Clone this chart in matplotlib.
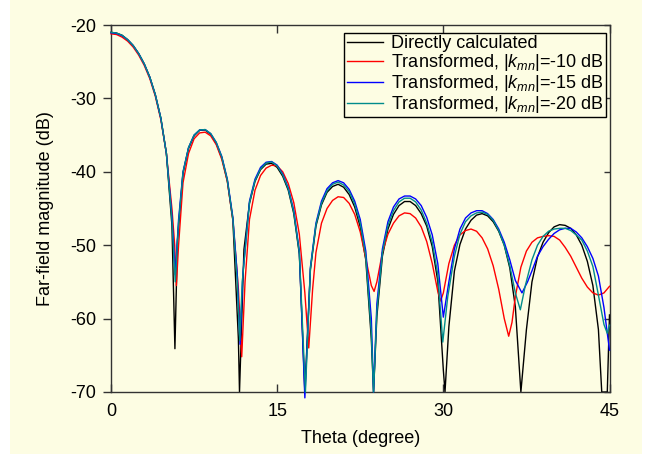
import matplotlib
matplotlib.use("Agg")
import matplotlib.pyplot as plt
from matplotlib.patches import Rectangle

plt.rcParams['font.family'] = ['Liberation Sans', 'DejaVu Sans']
plt.rcParams['mathtext.fontset'] = 'custom'
plt.rcParams['mathtext.rm'] = 'Liberation Sans'
plt.rcParams['mathtext.it'] = 'Liberation Sans:italic'
plt.rcParams['axes.unicode_minus'] = False

# ---------------- data: (theta in degrees, magnitude in dB) ----------------
pts_direct = [
    (0, -21.0), (0.5, -21.1), (1, -21.4), (1.5, -22.0), (2, -22.8), (2.5, -23.9), (3, -25.3),
    (3.5, -27.1), (4, -29.5), (4.5, -32.7), (5, -37.5), (5.5, -47.3), (5.77, -64.1), (6, -49.3),
    (6.5, -40.2), (7, -36.8), (7.5, -35.1), (8, -34.35), (8.5, -34.3), (9, -34.9), (9.5, -36.15),
    (10, -38.1), (10.5, -41.25), (11, -46.6), (11.5, -62.8), (11.6, -70.0), (12, -50.6),
    (12.5, -44.3), (13, -41.3), (13.5, -39.7), (14, -38.95), (14.5, -38.85), (15, -39.4),
    (15.5, -40.6), (16, -42.5), (16.5, -45.7), (17, -51.2), (17.5, -70.0), (18, -53.35),
    (18.5, -47.4), (19, -44.5), (19.5, -42.8), (20, -42.0), (20.5, -41.7), (21, -42.1),
    (21.5, -43.1), (22, -44.8), (22.5, -47.5), (23, -52.0), (23.5, -62.8), (23.7, -70.0),
    (24, -59.7), (24.5, -51.5), (25, -47.8), (25.5, -45.8), (26, -44.6), (26.5, -44.05),
    (27, -44.05), (27.5, -44.6), (28, -45.7), (28.5, -47.4), (29, -50.2), (29.5, -54.9),
    (30, -67.0), (30.15, -70.0), (30.5, -61.1), (31, -53.5), (31.5, -49.9), (32, -47.8),
    (32.5, -46.6), (33, -45.9), (33.5, -45.7), (34, -46.0), (34.5, -46.8), (35, -48.1),
    (35.5, -50.0), (36, -53.1), (36.5, -58.4), (37, -70.0), (37.5, -61.5), (38, -55.0),
    (38.5, -51.6), (39, -49.6), (39.5, -48.3), (40, -47.5), (40.5, -47.2), (41, -47.3),
    (41.5, -47.7), (42, -48.6), (42.5, -50.0), (43, -52.2), (43.5, -55.5), (44, -61.5),
    (44.3, -70.0), (44.8, -70.0), (45, -59.5),
]

pts_k10 = [
    (0, -21.2), (0.5, -21.3), (1, -21.65), (1.5, -22.2), (2, -23.0), (2.5, -24.1), (3, -25.5),
    (3.5, -27.3), (4, -29.7), (4.5, -32.9), (5, -37.5), (5.5, -45.0), (5.75, -50.0),
    (5.9, -55.5), (6.1, -50.0), (6.5, -41.5), (7, -37.5), (7.5, -35.5), (8, -34.7), (8.5, -34.6),
    (9, -35.1), (9.5, -36.3), (10, -38.3), (10.5, -41.3), (11, -46.5), (11.5, -56.0),
    (11.8, -65.2), (12.1, -55.0), (12.5, -46.5), (13, -42.5), (13.5, -40.5), (14, -39.5),
    (14.5, -39.1), (15, -39.2), (15.5, -40.0), (16, -41.6), (16.5, -44.2), (17, -48.5),
    (17.5, -56.5), (17.85, -64.0), (18.2, -56.0), (18.5, -51.0), (19, -47.0), (19.5, -45.0),
    (20, -43.9), (20.5, -43.4), (21, -43.5), (21.5, -44.3), (22, -45.8), (22.5, -48.2),
    (23, -51.8), (23.5, -55.5), (23.75, -56.3), (24, -55.0), (24.5, -51.0), (25, -48.5),
    (25.5, -47.0), (26, -46.0), (26.5, -45.6), (27, -45.7), (27.5, -46.3), (28, -47.5),
    (28.5, -49.5), (29, -52.5), (29.5, -56.3), (29.75, -57.6), (30, -56.5), (30.5, -52.5),
    (31, -50.0), (31.5, -48.6), (32, -48.0), (32.5, -47.8), (33, -48.1), (33.5, -49.0),
    (34, -50.5), (34.5, -52.8), (35, -56.0), (35.5, -60.0), (35.9, -62.4), (36.2, -60.5),
    (36.5, -57.0), (37, -53.0), (37.5, -50.8), (38, -49.6), (38.5, -49.0), (39, -48.8),
    (39.5, -48.7), (40, -48.8), (40.5, -49.3), (41, -50.3), (41.5, -51.5), (42, -53.0),
    (42.5, -54.5), (43, -55.7), (43.5, -56.5), (44, -56.8), (44.5, -56.5), (45, -55.6),
]

pts_k15 = [
    (0, -21.05), (0.5, -21.15), (1, -21.45), (1.5, -22.0), (2, -22.8), (2.5, -23.9), (3, -25.3),
    (3.5, -27.1), (4, -29.5), (4.5, -32.7), (5, -37.5), (5.5, -46.0), (5.8, -54.0), (6.1, -46.5),
    (6.5, -40.0), (7, -36.7), (7.5, -35.0), (8, -34.3), (8.5, -34.25), (9, -34.8), (9.5, -36.0),
    (10, -37.9), (10.5, -41.0), (11, -46.2), (11.4, -54.0), (11.65, -63.5), (11.9, -54.0),
    (12.5, -44.0), (13, -41.0), (13.5, -39.4), (14, -38.7), (14.5, -38.6), (15, -39.1),
    (15.5, -40.3), (16, -42.2), (16.5, -45.3), (17, -50.8), (17.5, -70.8), (18, -53.0),
    (18.5, -47.0), (19, -44.0), (19.5, -42.3), (20, -41.5), (20.5, -41.2), (21, -41.5),
    (21.5, -42.4), (22, -44.0), (22.5, -46.5), (23, -50.8), (23.5, -60.0), (23.7, -70.0),
    (24, -58.0), (24.5, -50.5), (25, -46.8), (25.5, -44.8), (26, -43.7), (26.5, -43.3),
    (27, -43.3), (27.5, -43.7), (28, -44.6), (28.5, -46.2), (29, -48.6), (29.5, -52.5),
    (30.0, -59.8), (30.5, -55.0), (31, -50.5), (31.5, -47.8), (32, -46.3), (32.5, -45.6),
    (33, -45.3), (33.5, -45.3), (34, -45.7), (34.5, -46.5), (35, -47.8), (35.5, -49.6),
    (36, -52.0), (36.5, -54.8), (37.1, -56.5), (37.6, -55.0), (38, -53.5), (38.5, -51.5),
    (39, -50.2), (39.5, -49.2), (40, -48.4), (40.5, -47.9), (41, -47.7), (41.5, -47.7),
    (42, -48.2), (42.5, -49.0), (43, -50.2), (43.5, -51.8), (44, -54.2), (44.5, -58.5),
    (45, -64.3),
]

pts_k20 = [
    (0, -21.0), (0.5, -21.1), (1, -21.4), (1.5, -22.0), (2, -22.8), (2.5, -23.9), (3, -25.3),
    (3.5, -27.1), (4, -29.5), (4.5, -32.7), (5, -37.5), (5.5, -46.5), (5.8, -55.0), (6.1, -47.0),
    (6.5, -40.1), (7, -36.7), (7.5, -35.0), (8, -34.3), (8.5, -34.25), (9, -34.8), (9.5, -36.0),
    (10, -38.0), (10.5, -41.1), (11, -46.4), (11.4, -55.0), (11.62, -63.0), (11.85, -55.0),
    (12.5, -44.2), (13, -41.2), (13.5, -39.6), (14, -38.8), (14.5, -38.65), (15, -39.2),
    (15.5, -40.4), (16, -42.3), (16.5, -45.5), (17, -51.0), (17.55, -70.0), (18, -53.2),
    (18.5, -47.2), (19, -44.3), (19.5, -42.6), (20, -41.7), (20.5, -41.4), (21, -41.8),
    (21.5, -42.7), (22, -44.4), (22.5, -47.0), (23, -51.5), (23.5, -62.0), (23.7, -70.0),
    (24, -59.0), (24.5, -51.0), (25, -47.3), (25.5, -45.3), (26, -44.1), (26.5, -43.6),
    (27, -43.6), (27.5, -44.1), (28, -45.2), (28.5, -47.0), (29, -49.6), (29.5, -54.0),
    (29.95, -63.2), (30.4, -57.0), (31, -51.5), (31.5, -48.5), (32, -46.8), (32.5, -46.0),
    (33, -45.6), (33.5, -45.5), (34, -45.8), (34.5, -46.6), (35, -48.0), (35.5, -50.0),
    (36, -52.8), (36.5, -56.5), (36.95, -58.8), (37.4, -55.5), (38, -52.0), (38.5, -50.0),
    (39, -48.8), (39.5, -48.1), (40, -47.8), (40.5, -47.7), (41, -47.7), (41.5, -48.0),
    (42, -48.6), (42.5, -49.3), (43, -50.8), (43.5, -52.9), (44, -56.8), (44.5, -60.8),
    (44.8, -62.0), (45, -60.9),
]

labels = ['Directly calculated',
          'Transformed, |$k_{mn}$|=-10 dB',
          'Transformed, |$k_{mn}$|=-15 dB',
          'Transformed, |$k_{mn}$|=-20 dB']
colors = ['#000000', '#ff0000', '#0000ff', '#008b8b']

x_ticks = [0, 15, 30, 45]
y_ticks = [-20, -30, -40, -50, -60, -70]

# ---------------- figure ----------------
W, H = 647, 454
bg = '#fdfde3'
fig = plt.figure(figsize=(W / 100, H / 100), dpi=100, facecolor='white')
fig.patches.append(Rectangle((10 / W, 0), 632 / W, 1.0, transform=fig.transFigure,
                             facecolor=bg, edgecolor='none', zorder=-10))

ax = fig.add_axes([111 / W, (H - 392) / H, (609.5 - 111) / W, (392 - 25) / H])
ax.set_facecolor(bg)

for i, (pts, c, lab) in enumerate(zip([pts_direct, pts_k10, pts_k15, pts_k20], colors, labels)):
    t = [p[0] for p in pts]
    d = [p[1] for p in pts]
    ax.plot(t, d, color=c, lw=1.0, label=lab, clip_on=False, zorder=2 + i)

ax.set_xlim(0, 45)
ax.set_ylim(-70, -20)
ax.set_xticks(x_ticks)
ax.set_yticks(y_ticks)
ax.tick_params(axis='x', direction='in', length=5.5, width=1, labelsize=13, pad=8,
               top=True, color='#333333')
ax.tick_params(axis='y', direction='out', length=5.5, width=1, labelsize=13, pad=5,
               color='#333333')
for s in ax.spines.values():
    s.set_color('#333333')
    s.set_linewidth(1.0)

sec = ax.secondary_yaxis('right')
sec.set_yticks(y_ticks)
sec.tick_params(direction='in', length=4, width=1, labelright=False, color='#333333')
sec.spines['right'].set_visible(False)

ax.set_xlabel('Theta (degree)', fontsize=13, labelpad=7)
ax.set_ylabel('Far-field magnitude (dB)', fontsize=13, labelpad=12)

leg = ax.legend(loc='upper right', bbox_to_anchor=(606 / W, 1 - 33 / H),
                bbox_transform=fig.transFigure, borderaxespad=0, fontsize=13,
                frameon=True, fancybox=False, framealpha=1, facecolor=bg,
                edgecolor='black', handlelength=2.0, handletextpad=0.45,
                labelspacing=0.0, borderpad=0.12)
leg.get_frame().set_linewidth(1.0)

fig.savefig('out.png', dpi=100, facecolor=fig.get_facecolor())
